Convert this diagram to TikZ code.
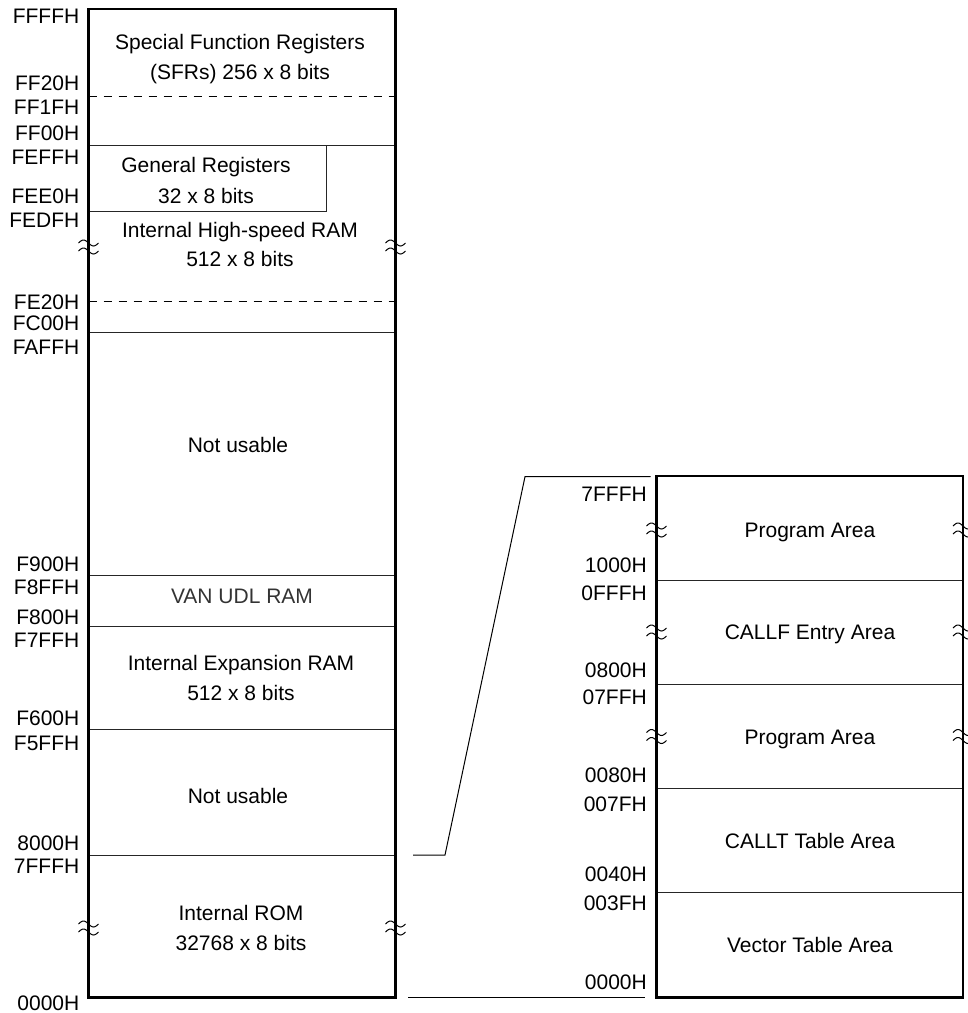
\documentclass[tikz,border=0pt]{standalone}
\usepackage{fontspec}
\setmainfont{Liberation Sans}
\newcommand\lblfont{\fontsize{21}{24}\selectfont}
\begin{document}
\begin{tikzpicture}[x=1pt,y=-1pt,
  lab/.style={anchor=east, inner sep=0pt, font=\lblfont, text height=15pt, text depth=0pt},
  txt/.style={anchor=center, inner sep=0pt, font=\lblfont, text height=15pt, text depth=0pt},
  outerbox/.style={line width=2.2pt},
  innerline/.style={line width=1pt, draw=black!85},
  dashline/.style={line width=1pt, dash pattern=on 8pt off 7pt},
  zoomline/.style={line width=1pt},
  brk/.pic={
    \draw[line width=1pt] plot[domain=-10:10, samples=25, smooth] (\x, {-4 + 3*sin(\x*18)});
    \draw[line width=1pt] plot[domain=-10:10, samples=25, smooth] (\x, {4 + 3*sin(\x*18)});
  }]
\useasboundingbox (0,0) rectangle (968,1013);

% ---------- left memory map ----------
\coordinate (LTL) at (88.5,9);
\coordinate (LBR) at (395.5,997.5);
\draw[dashline] (88.5,96.3) -- (395.5,96.3);
\draw[innerline] (88.5,145.3) -- (395.5,145.3);
\draw[innerline] (326,145.3) -- (326,211) -- (88.5,211);
\draw[dashline] (88.5,301.7) -- (395.5,301.7);
\draw[innerline] (88.5,332.3) -- (395.5,332.3);
\draw[innerline] (88.5,575.7) -- (395.5,575.7);
\draw[innerline] (88.5,626) -- (395.5,626);
\draw[innerline] (88.5,729.7) -- (395.5,729.7);
\draw[innerline] (88.5,855) -- (395.5,855);
\draw[outerbox] (LTL) rectangle (LBR);

\pic at (88.5,247) {brk};
\pic at (395.5,247) {brk};
\pic at (88.5,928) {brk};
\pic at (395.5,928) {brk};

\node[txt] (sfr1) at (240,42.3) {Special Function Registers};
\node[txt] (sfr2) at (240,71.7) {(SFRs) 256 x 8 bits};
\node[txt] (gr1) at (206,165) {General Registers};
\node[txt] (gr2) at (206,196) {32 x 8 bits};
\node[txt] (hs1) at (240,230) {Internal High-speed RAM};
\node[txt] (hs2) at (240,259) {512 x 8 bits};
\node[txt] (nu1) at (238,445) {Not usable};
\node[txt, text=black!80] (van) at (242,596) {VAN UDL RAM};
\node[txt] (ex1) at (241,662.7) {Internal Expansion RAM};
\node[txt] (ex2) at (241,692.7) {512 x 8 bits};
\node[txt] (nu2) at (238,796) {Not usable};
\node[txt] (rom1) at (241,913.3) {Internal ROM};
\node[txt] (rom2) at (241,943) {32768 x 8 bits};

\node[lab] (a1) at (79.5,15.5) {FFFFH};
\node[lab] (a2) at (79.5,82.7) {FF20H};
\node[lab] (a3) at (79.5,106.7) {FF1FH};
\node[lab] (a4) at (79.5,133.3) {FF00H};
\node[lab] (a5) at (79.5,156.7) {FEFFH};
\node[lab] (a6) at (79.5,196) {FEE0H};
\node[lab] (a7) at (79.5,220) {FEDFH};
\node[lab] (a8) at (79.5,301.7) {FE20H};
\node[lab] (a9) at (79.5,322.7) {FC00H};
\node[lab] (a10) at (79.5,346.7) {FAFFH};
\node[lab] (a11) at (79.5,563.5) {F900H};
\node[lab] (a12) at (79.5,586.7) {F8FFH};
\node[lab] (a13) at (79.5,616.7) {F800H};
\node[lab] (a14) at (79.5,640) {F7FFH};
\node[lab] (a15) at (79.5,718.3) {F600H};
\node[lab] (a16) at (79.5,743.3) {F5FFH};
\node[lab] (a17) at (79.5,843.3) {8000H};
\node[lab] (a18) at (79.5,865.5) {7FFFH};
\node[lab] (a19) at (79.5,1002.5) {0000H};

% ---------- right memory map ----------
\coordinate (RTL) at (656.5,476.3);
\coordinate (RBR) at (963,997.5);
\draw[innerline] (656.5,580.2) -- (963,580.2);
\draw[innerline] (656.5,684.4) -- (963,684.4);
\draw[innerline] (656.5,788.6) -- (963,788.6);
\draw[innerline] (656.5,892.8) -- (963,892.8);
\draw[outerbox] (RTL) rectangle (RBR);

\pic at (656.5,530) {brk};
\pic at (963,530) {brk};
\pic at (656.5,632) {brk};
\pic at (963,632) {brk};
\pic at (656.5,736.5) {brk};
\pic at (963,736.5) {brk};

\node[txt] (p1) at (810,530) {Program Area};
\node[txt] (p2) at (810,632) {CALLF Entry Area};
\node[txt] (p3) at (810,736.5) {Program Area};
\node[txt] (p4) at (810,840.5) {CALLT Table Area};
\node[txt] (p5) at (810,944.5) {Vector Table Area};

\node[lab] (b1) at (647,494) {7FFFH};
\node[lab] (b2) at (647,564.5) {1000H};
\node[lab] (b3) at (647,593) {0FFFH};
\node[lab] (b4) at (647,670) {0800H};
\node[lab] (b5) at (647,697) {07FFH};
\node[lab] (b6) at (647,775) {0080H};
\node[lab] (b7) at (647,804) {007FH};
\node[lab] (b8) at (647,874) {0040H};
\node[lab] (b9) at (647,903.3) {003FH};
\node[lab] (b10) at (647,982) {0000H};

% ---------- zoom lines ----------
\coordinate (z0) at (413,855);
\coordinate (z1) at (445,855);
\coordinate (z2) at (525,476.7);
\coordinate (z3) at (650.7,476.7);
\coordinate (w0) at (408,997.5);
\coordinate (w1) at (645,997.5);
\draw[zoomline] (z0) -- (z1) -- (z2) -- (z3);
\draw[zoomline] (w0) -- (w1);
\end{tikzpicture}
\end{document}
